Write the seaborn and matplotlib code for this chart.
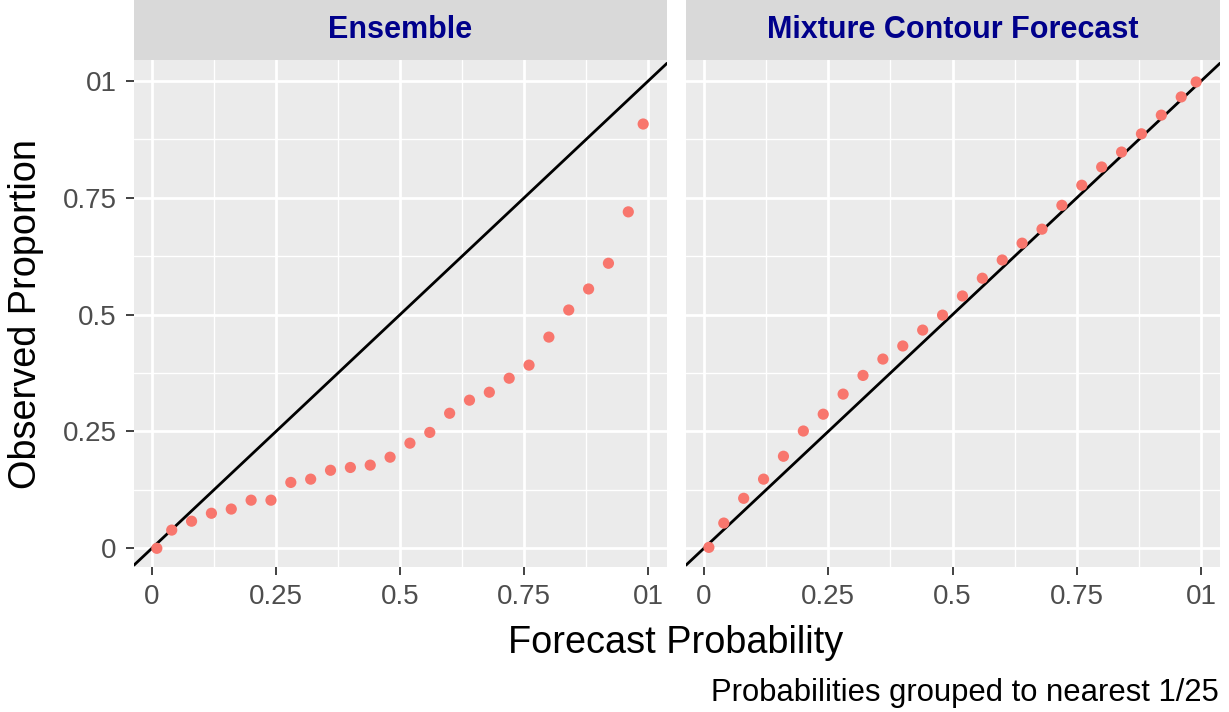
import matplotlib
matplotlib.use("Agg")
import matplotlib.pyplot as plt
import numpy as np
import pandas as pd
import seaborn as sns

forecast = [0.01, 0.04, 0.08, 0.12, 0.16, 0.20, 0.24, 0.28, 0.32, 0.36, 0.40, 0.44, 0.48,
            0.52, 0.56, 0.60, 0.64, 0.68, 0.72, 0.76, 0.80, 0.84, 0.88, 0.92, 0.96, 0.99]
ensemble_obs = [0.0, 0.039, 0.058, 0.075, 0.084, 0.103, 0.103, 0.141, 0.148, 0.167, 0.173,
                0.178, 0.195, 0.225, 0.248, 0.289, 0.317, 0.334, 0.364, 0.392, 0.452, 0.510,
                0.555, 0.610, 0.720, 0.908]
mixture_obs = [0.002, 0.054, 0.107, 0.148, 0.197, 0.251, 0.287, 0.330, 0.370, 0.405, 0.433,
               0.467, 0.499, 0.540, 0.578, 0.617, 0.653, 0.683, 0.734, 0.777, 0.816, 0.848,
               0.887, 0.927, 0.966, 0.998]
panels = ["Ensemble", "Mixture Contour Forecast"]
tick_vals = [0, 0.25, 0.5, 0.75, 1]
tick_labels = ["0", "0.25", "0.5", "0.75", "01"]

df = pd.concat([
    pd.DataFrame({"forecast": forecast, "observed": ensemble_obs, "panel": panels[0]}),
    pd.DataFrame({"forecast": forecast, "observed": mixture_obs, "panel": panels[1]}),
])

sns.set_style("white")
plt.rcParams["font.family"] = ["Liberation Sans", "DejaVu Sans"]

W, H = 1229, 712
fig = plt.figure(figsize=(W / 100, H / 100), dpi=100)

panel_x = [(134, 667), (686, 1220)]
top, bottom = 60, 567
strip_top = 0

for (x0, x1), name in zip(panel_x, panels):
    ax = fig.add_axes([x0 / W, 1 - bottom / H, (x1 - x0) / W, (bottom - top) / H])
    ax.set_facecolor("#EBEBEB")
    for s in ax.spines.values():
        s.set_visible(False)
    sub = df[df["panel"] == name]
    ax.set_xlim(-0.036, 1.038)
    ax.set_ylim(-0.04, 1.045)
    minor = [0.125, 0.375, 0.625, 0.875]
    for m in minor:
        ax.axvline(m, color="white", lw=1.0, zorder=0)
        ax.axhline(m, color="white", lw=1.0, zorder=0)
    for t in tick_vals:
        ax.axvline(t, color="white", lw=2.0, zorder=0)
        ax.axhline(t, color="white", lw=2.0, zorder=0)
    ax.axline((0, 0), (1, 1), color="black", lw=2, zorder=2)
    sns.scatterplot(data=sub, x="forecast", y="observed", ax=ax, color="#F8766D",
                    s=65, edgecolor="none", zorder=3, legend=False)
    ax.set_xticks(tick_vals)
    ax.set_xticklabels(tick_labels)
    ax.set_yticks(tick_vals)
    first = x0 == panel_x[0][0]
    if first:
        ax.set_yticklabels(tick_labels)
    else:
        ax.set_yticklabels([])
    ax.tick_params(axis="x", bottom=True)
    ax.tick_params(axis="y", left=first)
    ax.tick_params(axis="both", labelsize=20, labelcolor="#4D4D4D", color="#333333",
                   length=5.5, width=1.3, direction="out", pad=7)
    ax.set_xlabel("")
    ax.set_ylabel("")
    # strip
    sax = fig.add_axes([x0 / W, 1 - top / H, (x1 - x0) / W, (top - strip_top) / H])
    sax.set_facecolor("#D9D9D9")
    sax.set_xticks([])
    sax.set_yticks([])
    for s in sax.spines.values():
        s.set_visible(False)
    sax.text(0.5, 0.5, name, ha="center", va="center", color="#00008B",
             fontsize=22, fontweight="bold", transform=sax.transAxes)

fig.text(676 / W, 1 - 643 / H, "Forecast Probability", ha="center", va="center",
         fontsize=27.3, color="black")
fig.text(26 / W, 1 - 314 / H, "Observed Proportion", ha="center", va="center",
         rotation=90, fontsize=27.3, color="black")
fig.text(1219 / W, 1 - 693 / H, "Probabilities grouped to nearest 1/25", ha="right",
         va="center", fontsize=22.3, color="black")

fig.savefig("out.png", dpi=100)
